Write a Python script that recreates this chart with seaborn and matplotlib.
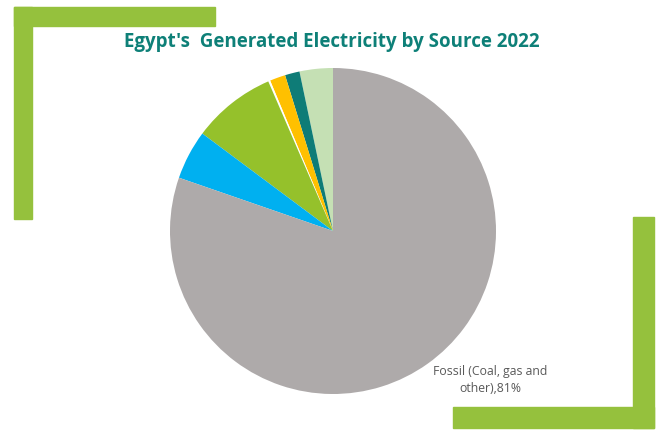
import matplotlib
matplotlib.use("Agg")
import matplotlib.pyplot as plt
from matplotlib.patches import Rectangle
import seaborn as sns

# share of generated electricity (%), counter-clockwise from 12 o'clock
sources = ["Other renewables", "Biomass", "Solar", "Other", "Wind", "Hydro",
           "Fossil (Coal, gas and other)"]
shares = [3.3, 1.45, 1.55, 0.2, 8.3, 4.9, 80.3]
colors = ["#C5E0B4", "#0E7C77", "#FFC000", "#FFFFFF", "#95C12B", "#00B0F0", "#AEAAAA"]
fossil_label = "Fossil (Coal, gas and\nother),81%"
title = "Egypt's  Generated Electricity by Source 2022"

sns.set_theme(style="white")
plt.rcParams["font.family"] = ["Open Sans", "DejaVu Sans"]

W, H = 659, 430
fig = plt.figure(figsize=(W / 100, H / 100), dpi=100)
fig.patch.set_facecolor("white")

# green corner brackets
green = "#95C13D"
def px_rect(x0, y0, x1, y1):
    fig.patches.append(Rectangle((x0 / W, 1 - y1 / H), (x1 - x0) / W, (y1 - y0) / H,
                                 transform=fig.transFigure, color=green, zorder=0))

px_rect(14, 7, 215, 26)
px_rect(14, 7, 32, 219)
px_rect(633, 217, 654, 428)
px_rect(453, 407, 654, 428)

# pie axes: center (333, 231), radius 163 px
cx, cy, r = 333, 231, 163
ax = fig.add_axes([(cx - r) / W, 1 - (cy + r) / H, 2 * r / W, 2 * r / H])
ax.pie(shares, colors=colors, startangle=90, counterclock=True,
       wedgeprops=dict(linewidth=0))
ax.set_xlim(-1, 1)
ax.set_ylim(-1, 1)
ax.set_aspect("equal")
ax.axis("off")

# data label, one centred line at a time
for i, line in enumerate(fossil_label.split("\n")):
    ax.text(157 / r, -(372 + 16 * i - cy) / r, line, ha="center", va="center",
            fontsize=8.8, color="#595959", clip_on=False)

fig.text(332 / W, 1 - 42 / H, title, ha="center", va="center", fontsize=13.5,
         fontweight="bold", color="#0E8078")

fig.savefig("out.png", dpi=100)
